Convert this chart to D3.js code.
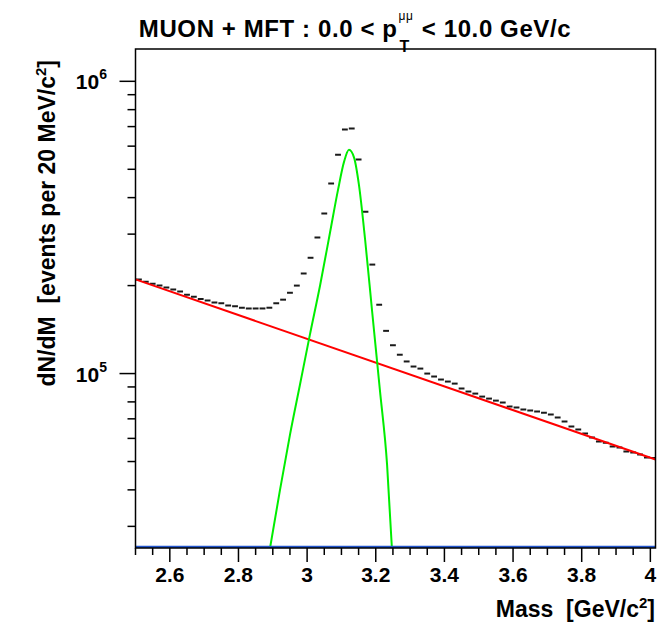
<!DOCTYPE html>
<html>
<head>
<meta charset="utf-8">
<script src="https://cdn.jsdelivr.net/npm/d3@7"></script>
<style>
	body { margin: 0; background: #fff; }
	text { font-family: "Liberation Sans", Arial, sans-serif; font-weight: bold; fill: #000; white-space: pre; }
</style>
</head>
<body>
<script>
// центры бинов (20 MeV)
var massBins = [2.51, 2.53, 2.55, 2.57, 2.59, 2.61, 2.63, 2.65, 2.67, 2.69,
	2.71, 2.73, 2.75, 2.77, 2.79, 2.81, 2.83, 2.85, 2.87, 2.89,
	2.91, 2.93, 2.95, 2.97, 2.99, 3.01, 3.03, 3.05, 3.07, 3.09,
	3.11, 3.13, 3.15, 3.17, 3.19, 3.21, 3.23, 3.25, 3.27, 3.29,
	3.31, 3.33, 3.35, 3.37, 3.39, 3.41, 3.43, 3.45, 3.47, 3.49,
	3.51, 3.53, 3.55, 3.57, 3.59, 3.61, 3.63, 3.65, 3.67, 3.69,
	3.71, 3.73, 3.75, 3.77, 3.79, 3.81, 3.83, 3.85, 3.87, 3.89,
	3.91, 3.93, 3.95, 3.97, 3.99, 4.01];

// содержимое бинов
var counts = [2.10e5, 2.06e5, 2.03e5, 2.00e5, 1.97e5, 1.94e5, 1.91e5, 1.86e5, 1.83e5, 1.80e5,
	1.78e5, 1.75e5, 1.74e5, 1.71e5, 1.70e5, 1.68e5, 1.67e5, 1.67e5, 1.67e5, 1.68e5,
	1.74e5, 1.79e5, 1.89e5, 2.00e5, 2.20e5, 2.49e5, 2.92e5, 3.53e5, 4.47e5, 5.61e5,
	6.84e5, 6.89e5, 5.40e5, 3.58e5, 2.36e5, 1.72e5, 1.40e5, 1.25e5, 1.16e5, 1.10e5,
	1.057e5, 1.04e5, 1.00e5, 9.77e4, 9.54e4, 9.39e4, 9.24e4, 8.89e4, 8.68e4, 8.54e4,
	8.34e4, 8.21e4, 8.08e4, 7.96e4, 7.71e4, 7.65e4, 7.53e4, 7.47e4, 7.41e4, 7.35e4,
	7.24e4, 7.07e4, 6.85e4, 6.59e4, 6.44e4, 6.23e4, 6.04e4, 5.85e4, 5.80e4, 5.63e4,
	5.58e4, 5.41e4, 5.37e4, 5.28e4, 5.16e4, 5.14e4];

// фон (красная прямая)
var bkgPoints = [[2.5, 2.10e5], [4.015, 5.08e4]];

// сигнал (зелёная кривая)
var signalPoints = [[2.892, 2.53e4], [2.921, 4.0e4], [2.950, 6.17e4], [2.979, 9.14e4],
	[3.008, 1.356e5], [3.038, 2.01e5], [3.067, 3.05e5], [3.090, 4.25e5],
	[3.1075, 5.30e5], [3.122, 5.83e5], [3.137, 5.47e5], [3.151, 4.42e5],
	[3.169, 2.87e5], [3.189, 1.65e5], [3.212, 8.79e4], [3.233, 4.87e4], [3.247, 2.53e4]];

// синяя линия внизу (под минимумом оси)
var bluePoints = [[2.5, 1e3], [4.015, 1e3]];

var xTicks = [2.6, 2.8, 3.0, 3.2, 3.4, 3.6, 3.8, 4.0];
var xTickLabels = ["2.6", "2.8", "3", "3.2", "3.4", "3.6", "3.8", "4"];
var xMinorTicks = [2.5, 2.55, 2.65, 2.7, 2.75, 2.85, 2.9, 2.95, 3.05, 3.1, 3.15,
	3.25, 3.3, 3.35, 3.45, 3.5, 3.55, 3.65, 3.7, 3.75, 3.85, 3.9, 3.95];
var yTicks = [1e5, 1e6];
var yTickExp = ["5", "6"];
var yMinorTicks = [3e4, 4e4, 5e4, 6e4, 7e4, 8e4, 9e4,
	2e5, 3e5, 4e5, 5e5, 6e5, 7e5, 8e5, 9e5];

function ready() {
	var width = 658,
			height = 624,
			left = 135.5, right = 655.5, top = 49, bottom = 548;

	var svg = d3.select('body').append('svg')
		.attr('width', width)
		.attr('height', height)
		.style('display', 'block');

	svg.append('rect').attr('width', width).attr('height', height).attr('fill', '#fff');

	var x = d3.scaleLinear().domain([2.5, 4.015]).range([left, right]);
	var y = d3.scaleLog().domain([2.53e4, 1.29e6]).range([bottom, top]).clamp(true);

	svg.append('clipPath').attr('id', 'frame')
		.append('rect')
		.attr('x', left).attr('y', top)
		.attr('width', right - left).attr('height', bottom - top);

	var plot = svg.append('g').attr('clip-path', 'url(#frame)');

	// точки гистограммы - короткие чёрточки
	plot.selectAll('line.bin')
		.data(massBins)
		.enter()
		.append('line')
		.attr('class', 'bin')
		.attr('x1', function(d) { return x(d - 0.0085); })
		.attr('x2', function(d) { return x(d + 0.0085); })
		.attr('y1', function(d, i) { return y(counts[i]); })
		.attr('y2', function(d, i) { return y(counts[i]); })
		.attr('stroke', '#1a1a1a')
		.attr('stroke-width', 2);

	var line = d3.line()
		.x(function(d) { return x(d[0]); })
		.y(function(d) { return y(d[1]); });

	plot.append('path')
		.datum(bkgPoints)
		.attr('d', line)
		.attr('fill', 'none')
		.attr('stroke', '#ff0000')
		.attr('stroke-width', 2);

	plot.append('path')
		.datum(signalPoints)
		.attr('d', line.curve(d3.curveMonotoneX))
		.attr('fill', 'none')
		.attr('stroke', '#00ee00')
		.attr('stroke-width', 2);

	plot.append('path')
		.datum(bluePoints)
		.attr('d', d3.line().x(function(d) { return x(d[0]); }).y(function(d) { return y(d[1]) - 1; }))
		.attr('fill', 'none')
		.attr('stroke', '#2255cc')
		.attr('stroke-width', 2.5);

	// рамка
	svg.append('rect')
		.attr('x', left).attr('y', top)
		.attr('width', right - left).attr('height', bottom - top)
		.attr('fill', 'none')
		.attr('stroke', '#000')
		.attr('stroke-width', 1.5);

	// ось X
	svg.selectAll('line.xmaj').data(xTicks).enter().append('line')
		.attr('x1', function(d) { return x(d); }).attr('x2', function(d) { return x(d); })
		.attr('y1', bottom).attr('y2', bottom + 14)
		.attr('stroke', '#000').attr('stroke-width', 1.5);
	svg.selectAll('line.xmin').data(xMinorTicks).enter().append('line')
		.attr('x1', function(d) { return x(d); }).attr('x2', function(d) { return x(d); })
		.attr('y1', bottom).attr('y2', bottom + 7)
		.attr('stroke', '#000').attr('stroke-width', 1.5);
	svg.selectAll('text.xlab').data(xTicks).enter().append('text')
		.attr('x', function(d) { return x(d); })
		.attr('y', 582)
		.attr('text-anchor', 'middle')
		.style('font-size', '21px')
		.text(function(d, i) { return xTickLabels[i]; });

	var xTitle = svg.append('text')
		.attr('x', 655).attr('y', 617)
		.attr('text-anchor', 'end')
		.style('font-size', '23px');
	xTitle.append('tspan').text('Mass  [GeV/c');
	xTitle.append('tspan').attr('dy', -9).style('font-size', '15px').text('2');
	xTitle.append('tspan').attr('dy', 9).text(']');

	// ось Y
	svg.selectAll('line.ymaj').data(yTicks).enter().append('line')
		.attr('y1', function(d) { return y(d); }).attr('y2', function(d) { return y(d); })
		.attr('x1', left - 16).attr('x2', left)
		.attr('stroke', '#000').attr('stroke-width', 1.5);
	svg.selectAll('line.ymin').data(yMinorTicks).enter().append('line')
		.attr('y1', function(d) { return y(d); }).attr('y2', function(d) { return y(d); })
		.attr('x1', left - 8).attr('x2', left)
		.attr('stroke', '#000').attr('stroke-width', 1.5);
	var ylab = svg.selectAll('text.ylab').data(yTicks).enter().append('text')
		.attr('x', 107)
		.attr('y', function(d) { return y(d) + 8; })
		.attr('text-anchor', 'end')
		.style('font-size', '21px');
	ylab.append('tspan').text('10');
	ylab.append('tspan').attr('dy', -10).style('font-size', '14px')
		.text(function(d, i) { return yTickExp[i]; });

	var yTitle = svg.append('text')
		.attr('transform', 'translate(55,60) rotate(-90)')
		.attr('text-anchor', 'end')
		.style('font-size', '23px');
	yTitle.append('tspan').text('dN/dM  [events per 20 MeV/c');
	yTitle.append('tspan').attr('dy', -9).style('font-size', '15px').text('2');
	yTitle.append('tspan').attr('dy', 9).text(']');

	// заголовок с p_T^{μμ}
	var title = svg.append('g').style('letter-spacing', '0.6px');
	var t1 = title.append('text').attr('x', 0).attr('y', 37).style('font-size', '24px')
		.text('MUON + MFT : 0.0 < p');
	var w1 = t1.node().getComputedTextLength();
	var sup = title.append('text').attr('x', w1 + 1).attr('y', 20).style('font-size', '12px')
		.style('font-weight', 'normal').text('μμ');
	var sub = title.append('text').attr('x', w1 + 2).attr('y', 52).style('font-size', '16px').text('T');
	var w2 = Math.max(sup.node().getComputedTextLength(), sub.node().getComputedTextLength() + 2);
	var t3 = title.append('text').attr('x', w1 + w2 + 2).attr('y', 37).style('font-size', '24px')
		.text(' < 10.0 GeV/c');
	var total = w1 + w2 + 2 + t3.node().getComputedTextLength();
	title.attr('transform', 'translate(' + (355 - total / 2) + ',0)');
}

window.onload = function() {
	ready();
}
</script>
</body>
</html>
